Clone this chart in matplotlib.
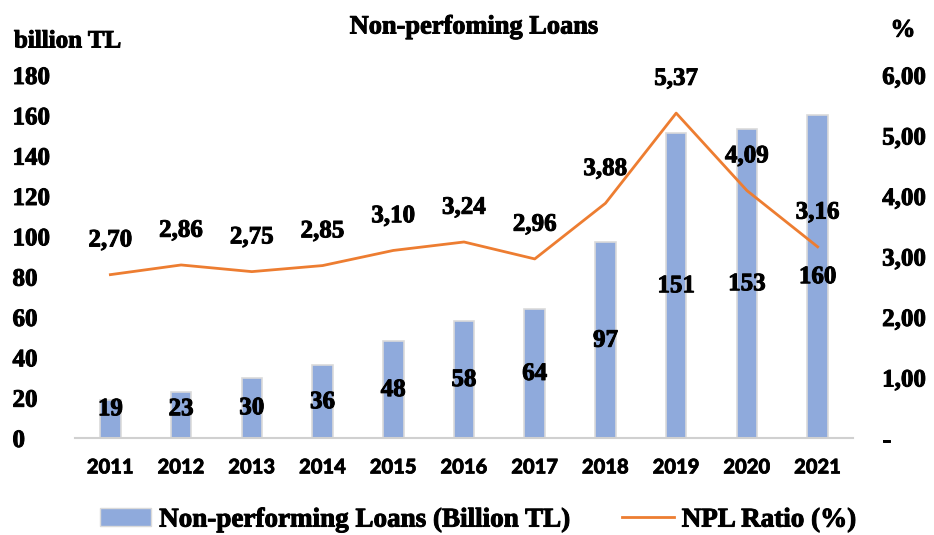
import numpy as np
import matplotlib.pyplot as plt
import matplotlib.patheffects as pe
from matplotlib.lines import Line2D
from matplotlib.patches import Patch

years = ['2011', '2012', '2013', '2014', '2015', '2016', '2017', '2018', '2019', '2020', '2021']
npl_loans = [19, 23, 30, 36, 48, 58, 64, 97, 151, 153, 160]
npl_ratio = [2.70, 2.86, 2.75, 2.85, 3.10, 3.24, 2.96, 3.88, 5.37, 4.09, 3.16]

left_ticks = [0, 20, 40, 60, 80, 100, 120, 140, 160, 180]
right_ticks = [0, 1, 2, 3, 4, 5, 6]
right_labels = ['-', '1,00', '2,00', '3,00', '4,00', '5,00', '6,00']

bar_color = '#8FAADC'
line_color = '#ED7D31'
serif = 'Liberation Serif'
heavy = [pe.withStroke(linewidth=0.7, foreground='black')]
sfont = dict(fontfamily=serif, fontweight='bold', fontsize=18, path_effects=heavy)

fig = plt.figure(figsize=(9.34, 5.35), dpi=100)
ax1 = fig.add_axes([75 / 934, 1 - 438 / 535, (853 - 75) / 934, (438 - 75) / 535])
ax2 = ax1.twinx()

x = np.arange(len(years))
ax1.bar(x, npl_loans, width=0.29, color=bar_color, edgecolor='#DADADA', linewidth=1.2, zorder=2)
ax1.set_xlim(-0.5, len(years) - 0.5)
ax1.set_ylim(0, 180)
ax1.set_yticks(left_ticks)
ax1.set_yticklabels([str(t) for t in left_ticks], ha='left', **sfont)
ax1.set_xticks(x)
ax1.set_xticklabels(years, fontfamily='Lato', fontweight='black', fontsize=14.5,
                    path_effects=[pe.withStroke(linewidth=0.5, foreground='black')])
ax1.tick_params(axis='y', length=0, pad=45)
ax1.tick_params(axis='x', length=0, pad=14)

for s in ['top', 'left', 'right']:
    ax1.spines[s].set_visible(False)
    ax2.spines[s].set_visible(False)
ax2.spines['bottom'].set_visible(False)
ax1.spines['bottom'].set_color('#D0D0D0')
ax1.spines['bottom'].set_linewidth(1.5)

for xi, v in zip(x, npl_loans):
    ax1.text(xi, max(v / 2, 14.5), str(v), ha='center', va='center', zorder=4, **sfont)

ax2.plot(x, npl_ratio, color=line_color, linewidth=2, zorder=3)
ax2.set_ylim(0, 6)
ax2.set_yticks(right_ticks)
ax2.set_yticklabels(right_labels, **sfont)
ax2.tick_params(axis='y', length=0, pad=21)

for xi, v in zip(x, npl_ratio):
    ax2.annotate(f'{v:.2f}'.replace('.', ','), (xi, v), xytext=(0, 25),
                 textcoords='offset points', ha='center', va='center', **sfont)

fig.text(474 / 934, 1 - 27 / 535, 'Non-perfoming Loans', ha='center', va='center',
         fontfamily=serif, fontweight='bold', fontsize=19, path_effects=heavy)
fig.text(14 / 934, 1 - 41 / 535, 'billion TL', ha='left', va='center', **sfont)
fig.text(903 / 934, 1 - 30 / 535, '%', ha='center', va='center', **sfont)

handles = [Patch(facecolor=bar_color, edgecolor='#DADADA'),
           Line2D([0], [0], color=line_color, linewidth=2)]
leg = fig.legend(handles, ['Non-performing Loans (Billion TL)', 'NPL Ratio (%)'],
                 loc='center', bbox_to_anchor=(478 / 934, 1 - 520 / 535), ncol=2, frameon=False,
                 prop={'family': serif, 'weight': 'bold', 'size': 19.5},
                 handlelength=1.9, handleheight=0.6, columnspacing=1.9, handletextpad=0.3)
for t in leg.get_texts():
    t.set_path_effects(heavy)

fig.savefig('out.png', dpi=100)
